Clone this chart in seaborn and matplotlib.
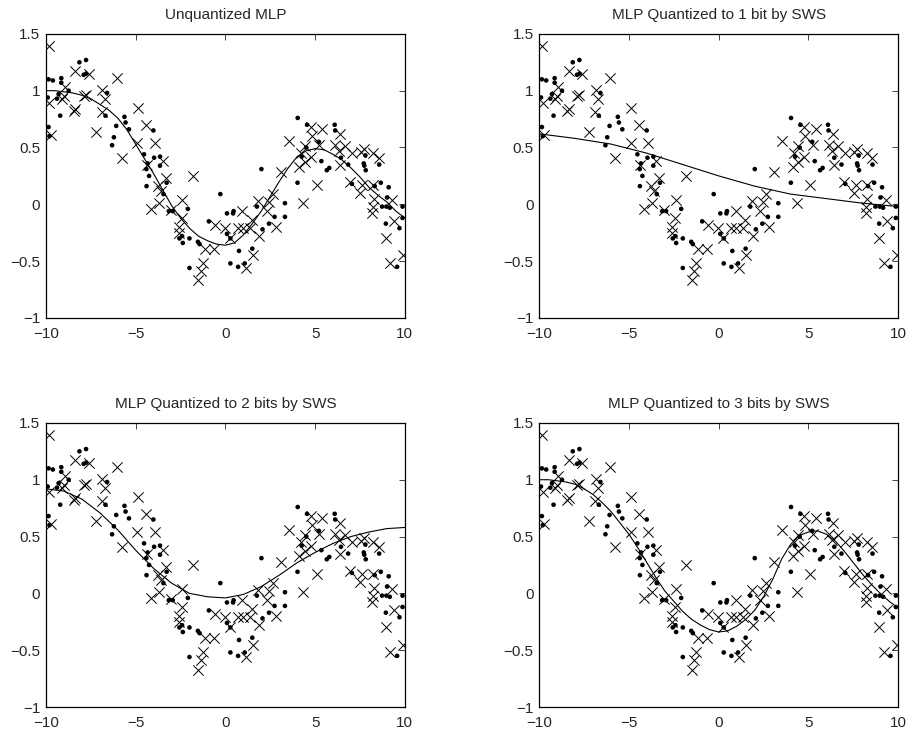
import matplotlib
matplotlib.use('Agg')
import matplotlib.pyplot as plt
import seaborn as sns
import pandas as pd
from matplotlib.ticker import FuncFormatter

# Training points (drawn as dots)
dots_x = [-9.85, -9.61, -9.14, -9.14, -9.90, -8.73, -9.29, -9.38, -9.20, -9.85, -9.80,
          -8.13, -7.76, -7.89, -7.75,
          -6.59, -6.68, -5.62, -5.56, -6.08, -5.37, -6.21, -6.31,
          -4.01, -4.53, -3.97, -3.64, -4.33, -3.64, -4.40, -4.25, -3.27, -4.39, -3.45,
          -3.15, -2.93, -2.09, -2.41, -2.56, -2.37, -2.00, -1.53, -1.44, -2.00,
          -0.28, -0.92, 0.09, 0.43, 0.46, 0.09, 0.28, 0.28, 0.71, 0.76, 1.08, 1.50,
          1.76, 2.01, 3.32, 3.32, 2.74, 2.43, 2.07, 4.02,
          4.03, 4.55, 6.09, 6.12, 5.21, 4.51, 4.25, 5.35, 5.65, 5.79, 6.44, 6.84,
          7.80, 7.71, 7.74, 7.82, 8.57,
          7.05, 8.32, 8.66, 9.10, 9.01, 8.73, 8.97, 9.16, 9.87, 9.87, 8.94, 9.70, 9.57]
dots_y = [1.10, 1.09, 1.11, 1.07, 0.94, 1.00, 0.97, 0.93, 0.78, 0.68, 0.60,
          1.25, 1.27, 1.14, 1.15,
          0.98, 0.78, 0.77, 0.72, 0.69, 0.66, 0.59, 0.52,
          0.65, 0.44, 0.41, 0.42, 0.36, 0.34, 0.31, 0.25, 0.19, 0.16, 0.09,
          -0.06, -0.06, -0.04, -0.28, -0.30, -0.34, -0.30, -0.33, -0.35, -0.56,
          0.09, -0.15, -0.08, -0.08, -0.06, -0.26, -0.30, -0.52, -0.55, -0.41, -0.52, -0.39,
          -0.02, 0.31, 0.01, -0.11, -0.11, -0.17, -0.22, 0.19,
          0.76, 0.70, 0.70, 0.65, 0.55, 0.50, 0.42, 0.38, 0.30, 0.32, 0.41, 0.35,
          0.43, 0.36, 0.34, 0.30, 0.35,
          0.18, 0.16, 0.19, 0.15, 0.06, -0.02, -0.02, -0.03, -0.02, -0.12, -0.17, -0.21, -0.55]

# Test points (drawn as crosses)
cross_x = [-9.85, -8.36, -7.61, -6.03, -8.95, -9.80, -9.10, -9.00, -8.45, -8.36, -7.89, -7.78,
           -6.85, -6.70, -6.87, -4.87, -7.23, -9.72,
           -4.42, -3.92, -4.90, -5.76, -4.38, -3.50, -3.32, -1.83, -3.75, -3.60,
           -4.15, -3.70, -3.02, -2.39, -2.42, -2.58, -2.60, -1.16, -0.66, -0.60, -0.04, 0.25,
           -1.24, -1.37, -1.50,
           3.10, 3.55,
           0.94, 0.69, 0.96, 1.36, 1.47, 1.90, 2.81, 2.31, 2.45, 1.83, 2.64, 1.53, 1.15, 4.34, 5.11,
           4.76, 5.40, 4.81, 5.24, 4.44, 4.22, 4.77, 4.44, 4.12, 6.37, 6.12, 6.65, 6.33, 7.03,
           7.53, 7.73, 8.24, 8.56, 6.40,
           6.96, 7.63, 7.52, 8.24, 8.26, 9.31, 8.20, 8.19, 9.40, 8.95, 9.92, 9.19]
cross_y = [1.39, 1.17, 1.15, 1.11, 1.03, 0.89, 0.93, 0.95, 0.82, 0.84, 0.95, 0.96,
           1.01, 0.93, 0.81, 0.85, 0.64, 0.61,
           0.70, 0.54, 0.54, 0.41, 0.35, 0.38, 0.23, 0.25, 0.16, 0.12,
           -0.04, 0.01, -0.05, 0.04, -0.12, -0.20, -0.25, -0.39, -0.39, -0.18, -0.21, -0.30,
           -0.52, -0.59, -0.67,
           0.28, 0.56,
           -0.06, -0.21, -0.21, -0.21, -0.14, -0.28, -0.20, -0.06, 0.02, 0.03, 0.09, -0.45, -0.56, 0.01, 0.17,
           0.68, 0.66, 0.60, 0.52, 0.51, 0.45, 0.42, 0.37, 0.33, 0.62, 0.52, 0.51, 0.47, 0.45,
           0.46, 0.49, 0.45, 0.41, 0.35,
           0.20, 0.17, 0.10, 0.17, 0.05, 0.04, -0.02, -0.08, -0.15, -0.30, -0.45, -0.52]

# Network outputs
fine_x = [-10, -9.5, -9, -8.5, -8, -7.5, -7, -6.5, -6, -5.5, -5, -4.5, -4, -3.5, -3, -2.5, -2,
          -1.5, -1, -0.5, 0, 0.5, 1, 1.5, 2, 2.5, 3, 3.5, 4, 4.5, 5, 5.5, 6, 6.5, 7, 7.5, 8,
          8.5, 9, 9.5, 10]
unquantized_y = [1.00, 1.00, 0.99, 0.98, 0.96, 0.93, 0.88, 0.83, 0.76, 0.66, 0.53, 0.40, 0.27,
                 0.13, -0.01, -0.12, -0.21, -0.28, -0.32, -0.35, -0.36, -0.34, -0.27, -0.17,
                 -0.06, 0.07, 0.20, 0.32, 0.42, 0.47, 0.49, 0.48, 0.44, 0.39, 0.32, 0.24, 0.15,
                 0.08, 0.02, -0.06, -0.12]
bits3_y = [1.00, 1.00, 0.99, 0.98, 0.96, 0.92, 0.87, 0.80, 0.72, 0.62, 0.52, 0.40, 0.27, 0.14,
           0.02, -0.07, -0.16, -0.23, -0.28, -0.32, -0.34, -0.33, -0.29, -0.23, -0.15, -0.03,
           0.12, 0.30, 0.43, 0.51, 0.54, 0.55, 0.52, 0.46, 0.37, 0.27, 0.17, 0.08, 0.00, -0.07,
           -0.13]
bits1_x = [-10, -8, -6, -4, -2, 0, 2, 4, 6, 8, 10]
bits1_y = [0.62, 0.58, 0.53, 0.45, 0.35, 0.25, 0.16, 0.09, 0.05, 0.01, -0.02]
bits2_x = [-10, -9, -8, -7, -6, -5, -4, -3, -2, -1, 0, 1, 2, 3, 4, 5, 6, 7, 8, 9, 10]
bits2_y = [0.92, 0.90, 0.83, 0.71, 0.56, 0.38, 0.22, 0.09, 0.00, -0.03, -0.04, -0.01, 0.06,
           0.16, 0.27, 0.36, 0.44, 0.50, 0.54, 0.57, 0.58]

titles = ['Unquantized MLP', 'MLP Quantized to 1 bit by SWS',
          'MLP Quantized to 2 bits by SWS', 'MLP Quantized to 3 bits by SWS']
x_ticks = [-10, -5, 0, 5, 10]
y_ticks = [-1, -0.5, 0, 0.5, 1, 1.5]


def draw_panel(ax, curve_x, curve_y, title):
    """Scatter the training/test points and overlay one fitted curve."""
    train = pd.DataFrame({'x': dots_x, 'y': dots_y})
    test = pd.DataFrame({'x': cross_x, 'y': cross_y})
    curve = pd.DataFrame({'x': curve_x, 'y': curve_y})

    sns.scatterplot(data=train, x='x', y='y', ax=ax, marker='o', s=11,
                    color='black', edgecolor='none', linewidth=0)
    sns.scatterplot(data=test, x='x', y='y', ax=ax, marker='x', s=55,
                    color='black', linewidth=0.7)
    sns.lineplot(data=curve, x='x', y='y', ax=ax, color='black', linewidth=0.8,
                 sort=False, estimator=None)

    ax.set_xlim(-10, 10)
    ax.set_ylim(-1, 1.5)
    ax.set_xticks(x_ticks)
    ax.set_yticks(y_ticks)
    fmt = FuncFormatter(lambda v, p: f'{v:g}'.replace('-', '\u2212'))
    ax.xaxis.set_major_formatter(fmt)
    ax.yaxis.set_major_formatter(fmt)
    ax.tick_params(direction='in', top=True, right=True, length=4, width=0.6,
                   labelsize=11)
    ax.tick_params(axis='x', pad=6.5)
    ax.tick_params(axis='y', pad=4)
    ax.set_xlabel('')
    ax.set_ylabel('')
    ax.set_title(title, fontsize=11, pad=10.5)
    for sp in ax.spines.values():
        sp.set_visible(True)
        sp.set_color('black')
        sp.set_linewidth(0.9)


sns.set_style('white')
plt.rcParams['font.family'] = ['Liberation Sans', 'DejaVu Sans']
plt.rcParams['axes.unicode_minus'] = True

fig = plt.figure(figsize=(9.17, 7.36), dpi=100)
w, h = 0.3915, 0.386
positions = [(0.050, 0.568), (0.588, 0.568), (0.050, 0.0394), (0.588, 0.0394)]
curves = [(fine_x, unquantized_y), (bits1_x, bits1_y), (bits2_x, bits2_y), (fine_x, bits3_y)]

for (left, bottom), (cx, cy), title in zip(positions, curves, titles):
    ax = fig.add_axes([left, bottom, w, h])
    draw_panel(ax, cx, cy, title)

fig.savefig('out.png', dpi=100, facecolor='white')
plt.close(fig)
